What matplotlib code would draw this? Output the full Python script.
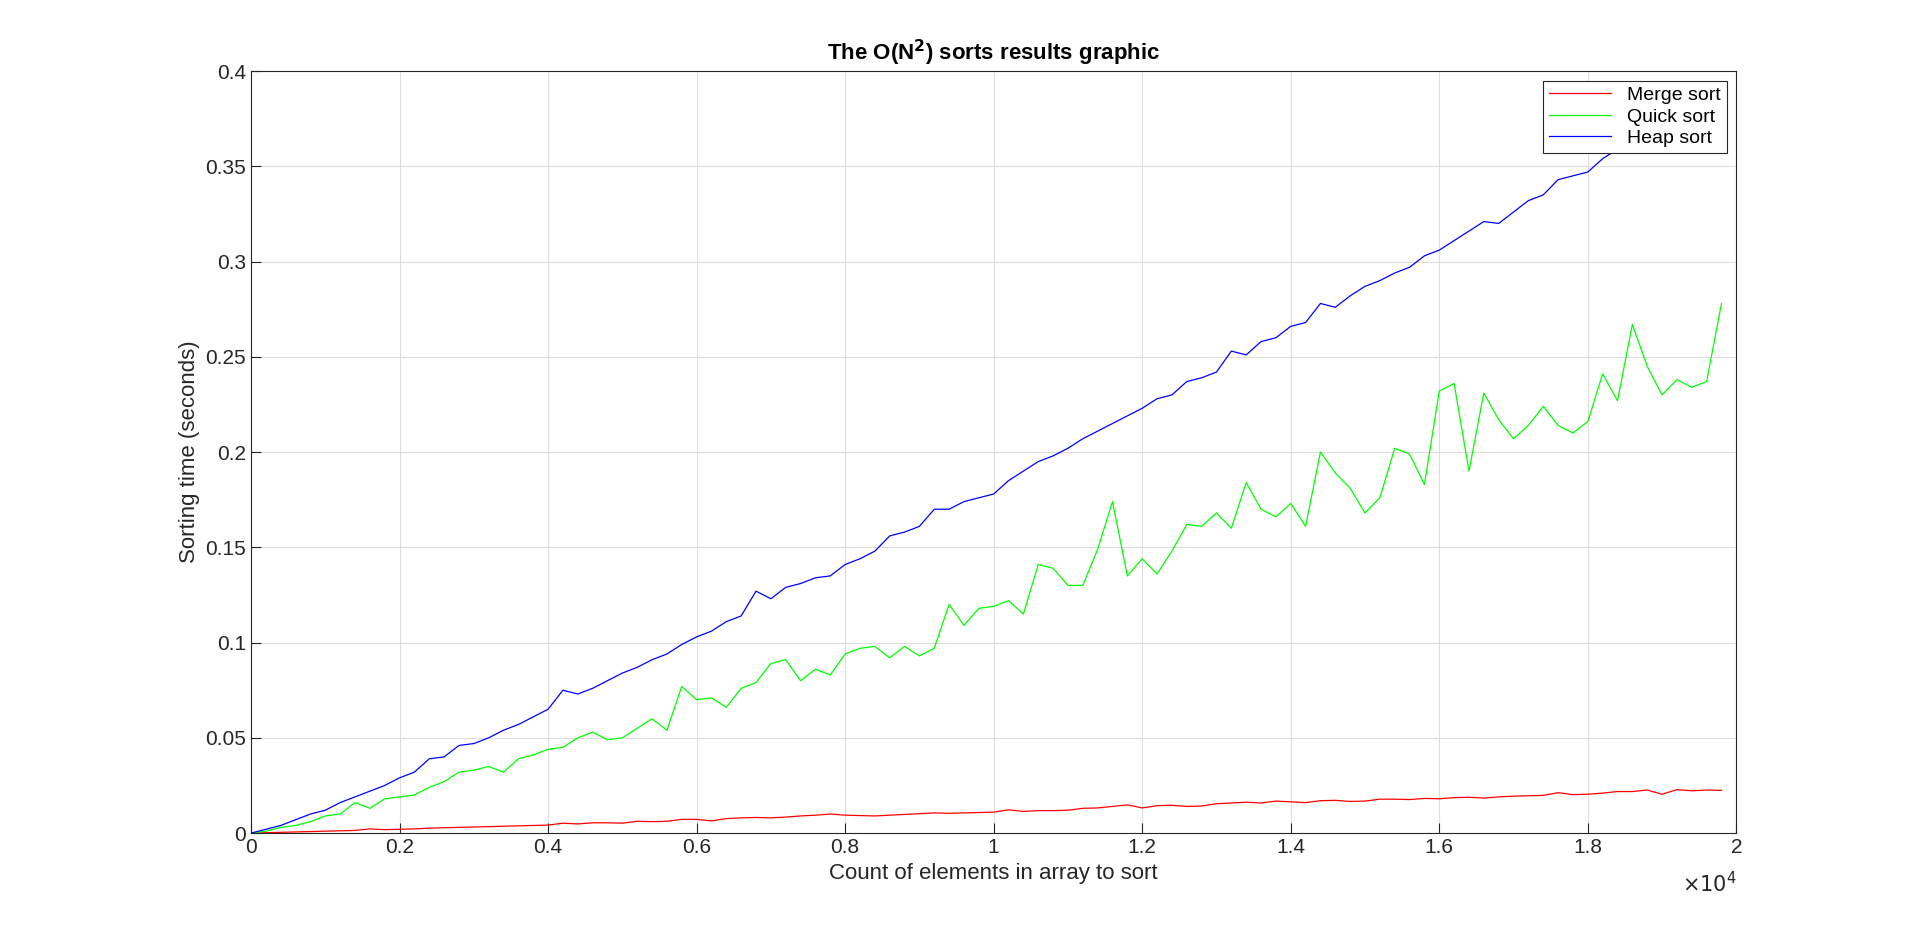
import matplotlib
matplotlib.use("Agg")
import matplotlib.pyplot as plt
import numpy as np

counts = list(range(0, 20000, 200))
merge = [0,0.0002,0.0004,0.0006,0.0008,0.001,0.0012,0.0014,0.0022,0.0018,
         0.002,0.0022,0.0026,0.0028,0.003,0.0032,0.0034,0.0036,0.0038,0.004,
         0.0042,0.0052,0.0048,0.0054,0.0054,0.0052,0.0062,0.006,0.0062,0.0072,
         0.0072,0.0064,0.0076,0.008,0.0082,0.008,0.0084,0.009,0.0094,0.01,
         0.0094,0.0092,0.009,0.0094,0.0098,0.0102,0.0106,0.0104,0.0106,0.0108,
         0.011,0.0122,0.0114,0.0118,0.0118,0.012,0.013,0.0132,0.014,0.0148,
         0.0132,0.0144,0.0146,0.014,0.0142,0.0154,0.0158,0.0162,0.0158,0.0168,
         0.0164,0.016,0.017,0.0172,0.0166,0.0168,0.0178,0.0178,0.0176,0.0182,
         0.018,0.0186,0.0188,0.0184,0.019,0.0194,0.0196,0.0198,0.0212,0.0202,
         0.0204,0.021,0.0218,0.0218,0.0226,0.0204,0.0228,0.0222,0.0226,0.0224]
quick = [0,0.001,0.003,0.004,0.006,0.009,0.010,0.016,0.013,0.018,
         0.019,0.020,0.024,0.027,0.032,0.033,0.035,0.032,0.039,0.041,
         0.044,0.045,0.050,0.053,0.049,0.050,0.055,0.060,0.054,0.077,
         0.070,0.071,0.066,0.076,0.079,0.089,0.091,0.080,0.086,0.083,
         0.094,0.097,0.098,0.092,0.098,0.093,0.097,0.120,0.109,0.118,
         0.119,0.122,0.115,0.141,0.139,0.130,0.130,0.149,0.174,0.135,
         0.144,0.136,0.148,0.162,0.161,0.168,0.160,0.184,0.170,0.166,
         0.173,0.161,0.200,0.189,0.181,0.168,0.176,0.202,0.199,0.183,
         0.232,0.236,0.190,0.231,0.217,0.207,0.214,0.224,0.214,0.210,
         0.216,0.241,0.227,0.267,0.245,0.230,0.238,0.234,0.237,0.278]
heap = [0,0.002,0.004,0.007,0.010,0.012,0.016,0.019,0.022,0.025,
        0.029,0.032,0.039,0.040,0.046,0.047,0.050,0.054,0.057,0.061,
        0.065,0.075,0.073,0.076,0.080,0.084,0.087,0.091,0.094,0.099,
        0.103,0.106,0.111,0.114,0.127,0.123,0.129,0.131,0.134,0.135,
        0.141,0.144,0.148,0.156,0.158,0.161,0.170,0.170,0.174,0.176,
        0.178,0.185,0.190,0.195,0.198,0.202,0.207,0.211,0.215,0.219,
        0.223,0.228,0.230,0.237,0.239,0.242,0.253,0.251,0.258,0.260,
        0.266,0.268,0.278,0.276,0.282,0.287,0.290,0.294,0.297,0.303,
        0.306,0.311,0.316,0.321,0.320,0.326,0.332,0.335,0.343,0.345,
        0.347,0.354,0.359,0.362,0.366,0.370,0.374,0.378,0.382,0.386]
xticks = [0, 2000, 4000, 6000, 8000, 10000, 12000, 14000, 16000, 18000, 20000]
xtick_labels = ["0", "0.2", "0.4", "0.6", "0.8", "1", "1.2", "1.4", "1.6", "1.8", "2"]
yticks = [0, 0.05, 0.1, 0.15, 0.2, 0.25, 0.3, 0.35, 0.4]
ytick_labels = ["0", "0.05", "0.1", "0.15", "0.2", "0.25", "0.3", "0.35", "0.4"]

plt.rcParams['font.family'] = ['Liberation Sans', 'DejaVu Sans']
W, H = 1568, 764
fig = plt.figure(figsize=(19.2, 9.36), dpi=100)
ax = fig.add_axes([205/W, 1-680/H, (1418-205)/W, (680-58)/H])
ax.plot(counts, merge, color='#ff0000', lw=0.9, label='Merge sort')
ax.plot(counts, quick, color='#00ff00', lw=0.9, label='Quick sort')
ax.plot(counts, heap, color='#0000ff', lw=0.9, label='Heap sort')
ax.set_xlim(0, 20000)
ax.set_ylim(0, 0.4)
ax.set_xticks(xticks)
ax.set_xticklabels(xtick_labels)
ax.set_yticks(yticks)
ax.set_yticklabels(ytick_labels)
ax.grid(True, color='#dddddd', lw=0.8)
ax.set_axisbelow(True)
ax.tick_params(direction='in', labelsize=15, colors='#262626', length=7, top=False, right=False)
for s in ax.spines.values():
    s.set_color('#262626'); s.set_linewidth(0.8)
ax.set_xlabel('Count of elements in array to sort', fontsize=16, color='#262626')
ax.set_ylabel('Sorting time (seconds)', fontsize=16, color='#262626')
ax.set_title(r'The O(N$^\mathbf{2}$) sorts results graphic', fontsize=16, fontweight='bold', color='#000000', pad=8)
ax.text(1.0, -0.05, r'$\times10^4$', transform=ax.transAxes, ha='right', va='top', fontsize=15, color='#262626')
leg = ax.legend(loc='upper right', fontsize=14, fancybox=False, framealpha=1, edgecolor='#262626', handlelength=3.2, borderpad=0.3, labelspacing=0.2)
leg.get_frame().set_linewidth(0.8)
fig.savefig('out.png', dpi=100, facecolor='white')
